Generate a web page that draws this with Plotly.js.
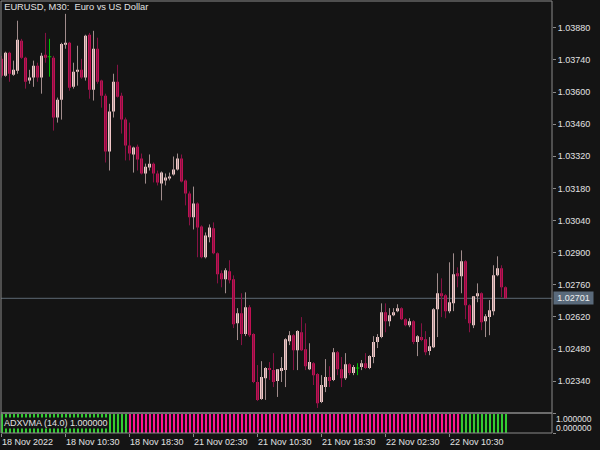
<!DOCTYPE html>
<html><head><meta charset="utf-8">
<script src="https://cdn.plot.ly/plotly-3.0.1.min.js"></script>
<style>html,body{margin:0;padding:0;background:#141414;}#chart{width:600px;height:450px;}</style>
</head><body><div id="chart"></div>
<script>
// EURUSD M30 bars (oldest -> newest)
const open = [
1.03745,1.03671,1.03771,1.03676,1.03693,1.03824,1.03750,1.03650,1.03663,1.03715,
1.03663,1.03763,1.03754,1.03750,1.03489,1.03567,1.03806,1.03815,1.03623,1.03689,
1.03697,1.03663,1.03850,1.03610,1.03789,1.03650,1.03584,1.03341,1.03515,1.03645,
1.03584,1.03480,1.03367,1.03328,1.03362,1.03310,1.03245,1.03271,1.03288,1.03245,
1.03201,1.03215,1.03223,1.03241,1.03262,1.03310,1.03215,1.03158,1.03054,1.03114,
1.03014,1.02880,1.02967,1.03006,1.02897,1.02810,1.02784,1.02819,1.02784,1.02592,
1.02636,1.02545,1.02662,1.02545,1.02336,1.02262,1.02353,1.02397,1.02388,1.02340,
1.02384,1.02388,1.02514,1.02540,1.02475,1.02553,1.02479,1.02392,1.02418,1.02371,
1.02249,1.02314,1.02358,1.02345,1.02466,1.02392,1.02353,1.02414,1.02375,1.02397,
1.02401,1.02418,1.02397,1.02445,1.02510,1.02532,1.02640,1.02601,1.02627,1.02645,
1.02658,1.02610,1.02584,1.02601,1.02510,1.02532,1.02523,1.02471,1.02488,1.02653,
1.02723,1.02714,1.02645,1.02679,1.02810,1.02797,1.02862,1.02671,1.02584,1.02710,
1.02723,1.02601,1.02619,1.02645,1.02801,1.02832,1.02749];
const high = [
1.03758,1.03776,1.03776,1.03737,1.03911,1.03832,1.03754,1.03697,1.03737,1.03728,
1.03771,1.03858,1.03832,1.03758,1.03576,1.03815,1.03941,1.03819,1.03728,1.03802,
1.03745,1.03850,1.03858,1.03867,1.03837,1.03654,1.03593,1.03549,1.03680,1.03719,
1.03597,1.03489,1.03467,1.03362,1.03371,1.03332,1.03288,1.03328,1.03293,1.03258,
1.03254,1.03245,1.03249,1.03319,1.03332,1.03328,1.03219,1.03167,1.03188,1.03119,
1.03019,1.02988,1.03023,1.03032,1.02901,1.02823,1.02832,1.02867,1.02801,1.02658,
1.02723,1.02727,1.02671,1.02549,1.02410,1.02427,1.02401,1.02423,1.02462,1.02392,
1.02445,1.02527,1.02558,1.02545,1.02562,1.02619,1.02592,1.02505,1.02423,1.02375,
1.02366,1.02436,1.02405,1.02484,1.02471,1.02445,1.02462,1.02418,1.02410,1.02418,
1.02432,1.02462,1.02453,1.02536,1.02545,1.02679,1.02679,1.02658,1.02658,1.02675,
1.02662,1.02614,1.02614,1.02606,1.02540,1.02592,1.02558,1.02532,1.02658,1.02810,
1.02788,1.02719,1.02858,1.02897,1.02836,1.02910,1.02867,1.02675,1.02710,1.02766,
1.02727,1.02632,1.02693,1.02845,1.02884,1.02845,1.02753];
const low = [
1.03663,1.03667,1.03645,1.03671,1.03680,1.03745,1.03615,1.03636,1.03623,1.03645,
1.03593,1.03728,1.03667,1.03432,1.03467,1.03480,1.03789,1.03606,1.03615,1.03628,
1.03658,1.03650,1.03571,1.03563,1.03636,1.03532,1.03293,1.03258,1.03489,1.03576,
1.03419,1.03302,1.03302,1.03249,1.03258,1.03241,1.03201,1.03258,1.03206,1.03193,
1.03128,1.03193,1.03215,1.03236,1.03258,1.03206,1.03106,1.03019,1.03001,1.02880,
1.02875,1.02875,1.02945,1.02893,1.02766,1.02749,1.02723,1.02766,1.02571,1.02519,
1.02497,1.02536,1.02532,1.02331,1.02253,1.02258,1.02258,1.02345,1.02314,1.02271,
1.02336,1.02314,1.02497,1.02388,1.02388,1.02471,1.02388,1.02388,1.02323,1.02223,
1.02244,1.02292,1.02314,1.02340,1.02366,1.02314,1.02345,1.02366,1.02366,1.02366,
1.02388,1.02392,1.02392,1.02418,1.02484,1.02527,1.02553,1.02579,1.02623,1.02640,
1.02606,1.02579,1.02575,1.02501,1.02449,1.02514,1.02453,1.02453,1.02484,1.02532,
1.02619,1.02614,1.02636,1.02645,1.02749,1.02723,1.02610,1.02553,1.02571,1.02684,
1.02562,1.02532,1.02540,1.02627,1.02797,1.02706,1.02701];
const close = [
1.03671,1.03771,1.03680,1.03697,1.03828,1.03750,1.03645,1.03663,1.03715,1.03663,
1.03758,1.03750,1.03754,1.03489,1.03567,1.03810,1.03815,1.03619,1.03689,1.03697,
1.03663,1.03845,1.03610,1.03789,1.03645,1.03584,1.03341,1.03515,1.03645,1.03580,
1.03480,1.03367,1.03332,1.03358,1.03306,1.03245,1.03275,1.03288,1.03245,1.03206,
1.03249,1.03228,1.03232,1.03262,1.03310,1.03210,1.03158,1.03054,1.03114,1.03010,
1.02880,1.02975,1.03010,1.02897,1.02806,1.02784,1.02823,1.02780,1.02588,1.02636,
1.02545,1.02662,1.02540,1.02336,1.02258,1.02358,1.02397,1.02388,1.02336,1.02392,
1.02397,1.02523,1.02540,1.02475,1.02558,1.02475,1.02405,1.02423,1.02366,1.02244,
1.02323,1.02358,1.02340,1.02466,1.02392,1.02353,1.02414,1.02375,1.02401,1.02397,
1.02418,1.02397,1.02449,1.02510,1.02532,1.02640,1.02601,1.02627,1.02640,1.02658,
1.02610,1.02584,1.02601,1.02510,1.02536,1.02519,1.02466,1.02492,1.02653,1.02723,
1.02710,1.02645,1.02684,1.02806,1.02797,1.02862,1.02671,1.02592,1.02710,1.02723,
1.02597,1.02623,1.02649,1.02801,1.02832,1.02749,1.02701];

// ADXVMA indicator: value and trend colour state (1 = up/green, -1 = down/pink)
const adxvmaValue = [
1,1,1,1,1,1,1,1,1,1, 1,1,1,1,1,1,1,1,1,1, 1,1,1,1,1,1,1,1,1,1,
1,1,1,1,1,1,1,1,1,1, 1,1,1,1,1,1,1,1,1,1, 1,1,1,1,1,1,1,1,1,1,
1,1,1,1,1,1,1,1,1,1, 1,1,1,1,1,1,1,1,1,1, 1,1,1,1,1,1,1,1,1,1,
1,1,1,1,1,1,1,1,1,1, 1,1,1,1,1,1,1,1,1,1, 1,1,1,1,1,1,1,1,1,1,
1,1,1,1,1,1,1];
const adxvmaTrend = [
 1, 1, 1, 1, 1, 1, 1, 1, 1, 1,  1, 1, 1, 1, 1, 1, 1, 1, 1, 1,  1, 1, 1, 1, 1, 1, 1, 1, 1, 1,
 1, 1,-1,-1,-1,-1,-1,-1,-1,-1, -1,-1,-1,-1,-1,-1,-1,-1,-1,-1, -1,-1,-1,-1,-1,-1,-1,-1,-1,-1,
-1,-1,-1,-1,-1,-1,-1,-1,-1,-1, -1,-1,-1,-1,-1,-1,-1,-1,-1,-1, -1,-1,-1,-1,-1,-1,-1,-1,-1,-1,
-1,-1,-1,-1,-1,-1,-1,-1,-1,-1, -1,-1,-1,-1,-1,-1,-1,-1,-1,-1, -1,-1,-1,-1,-1,
 1, 1, 1, 1, 1, 1, 1, 1, 1, 1, 1, 1];

// time axis labels (bar index where each label sits)
const tickBarIndex = [0, 16, 32, 48, 64, 80, 96, 112];
const tickLabels = ["18 Nov 2022","18 Nov 10:30","18 Nov 18:30","21 Nov 02:30","21 Nov 10:30","21 Nov 18:30","22 Nov 02:30","22 Nov 10:30"];

const symbolTitle = "EURUSD, M30:\u00a0 Euro vs US Dollar";
const indicatorLabel = "ADXVMA (14.0) 1.000000";
const indicatorScale = ["1.000000", "0.000000"];

// ---- build ----
const idx = open.map((_, i) => i);
const isDoji = open.map((o, i) => o === close[i]);
const pick = (arr, keepDoji) => arr.map((v, i) => (isDoji[i] === keepDoji ? v : null));

const BULL_BODY = '#ffd3d3', BEAR_BODY = '#cc1258';
const BULL_WICK = '#a08c8c', BEAR_WICK = '#861244';
const GRID = '#8a8a8a', TXT = '#e2e2e2';
const FONT = 'Liberation Sans, Arial, sans-serif';

const wicks = {
  type: 'ohlc', x: idx, xaxis: 'x', yaxis: 'y',
  open: pick(open, false), high: pick(high, false), low: pick(low, false), close: pick(close, false),
  tickwidth: 0,
  increasing: {line: {color: BULL_WICK, width: 1}},
  decreasing: {line: {color: BEAR_WICK, width: 1}},
  hoverinfo: 'skip'
};
const bodies = {
  type: 'candlestick', x: idx, xaxis: 'x', yaxis: 'y',
  open: pick(open, false), high: pick(high, false), low: pick(low, false), close: pick(close, false),
  whiskerwidth: 0,
  increasing: {fillcolor: BULL_BODY, line: {color: BULL_BODY, width: 0}},
  decreasing: {fillcolor: BEAR_BODY, line: {color: BEAR_BODY, width: 0}},
  hoverinfo: 'skip'
};
const dojis = {
  type: 'ohlc', x: idx, xaxis: 'x', yaxis: 'y',
  open: pick(open, true), high: pick(high, true), low: pick(low, true), close: pick(close, true),
  tickwidth: 0.45,
  increasing: {line: {color: '#00c000', width: 1}},
  decreasing: {line: {color: '#00c000', width: 1}},
  hoverinfo: 'skip'
};
const adx = {
  type: 'bar', x: idx, y: adxvmaValue, xaxis: 'x', yaxis: 'y2', width: 0.5,
  marker: {color: adxvmaTrend.map(t => t > 0 ? '#32cd32' : '#ff1493'), line: {width: 0}},
  hoverinfo: 'skip'
};

const lastClose = close[close.length - 1];
const mainBottom = 20 / 432;

const layout = {
  width: 600, height: 450,
  margin: {l: 1, r: 48, t: 1, b: 17, pad: 0},
  paper_bgcolor: '#141414', plot_bgcolor: '#141414',
  showlegend: false, hovermode: false, dragmode: false,
  font: {family: FONT, size: 9, color: TXT},
  title: {text: symbolTitle, x: 0.007, xanchor: 'left', y: 0.993, yanchor: 'top',
          font: {family: FONT, size: 9.3, color: TXT}},
  bargap: 0, boxgap: 0.28, boxgroupgap: 0,
  xaxis: {anchor: 'y2', range: [-0.125, 137.625], showgrid: false, zeroline: false, showline: false,
          tickmode: 'array', tickvals: tickBarIndex, ticktext: tickLabels,
          ticks: 'outside', ticklen: 3, tickcolor: GRID, ticklabelposition: 'outside right',
          tickfont: {family: FONT, size: 9, color: TXT},
          rangeslider: {visible: false}, fixedrange: true},
  yaxis: {domain: [mainBottom, 1], anchor: 'x', side: 'right', range: [1.02201, 1.03997],
          tick0: 1.0234, dtick: 0.0014, tickformat: '.5f',
          ticks: 'outside', ticklen: 3, tickcolor: GRID, showgrid: false, zeroline: false, showline: false,
          tickfont: {family: FONT, size: 9, color: TXT}, fixedrange: true},
  yaxis2: {domain: [0, 0.044], anchor: 'x', side: 'right', range: [0, 1],
           tickvals: [0, 1], showticklabels: false, ticks: 'outside', ticklen: 3, tickcolor: GRID,
           showgrid: false, zeroline: false, showline: false, fixedrange: true},
  shapes: [
    {type: 'rect', xref: 'paper', yref: 'paper', x0: 0, x1: 1, y0: mainBottom, y1: 1,
     line: {color: GRID, width: 1}, fillcolor: 'rgba(0,0,0,0)', layer: 'above'},
    {type: 'rect', xref: 'paper', yref: 'paper', x0: 0, x1: 1, y0: 0, y1: mainBottom,
     line: {color: GRID, width: 1}, fillcolor: 'rgba(0,0,0,0)', layer: 'above'},
    {type: 'line', xref: 'paper', yref: 'y', x0: 0, x1: 1, y0: lastClose, y1: lastClose,
     line: {color: '#5d6874', width: 1}, layer: 'below'}
  ],
  annotations: [
    {xref: 'paper', yref: 'y', x: 1, y: lastClose, xanchor: 'left', yanchor: 'middle', xshift: 1,
     text: lastClose.toFixed(5), showarrow: false, bgcolor: '#5a6a7b', borderpad: 1, width: 37,
     font: {family: FONT, size: 9, color: '#eeeeee'}},
    {xref: 'paper', yref: 'paper', x: 0, y: 10 / 432, xanchor: 'left', yanchor: 'middle', xshift: 2,
     text: indicatorLabel, showarrow: false, bgcolor: '#141414', borderpad: 0,
     font: {family: FONT, size: 9, color: TXT}},
    {xref: 'paper', yref: 'paper', x: 1, y: 14 / 432, xanchor: 'left', yanchor: 'middle', xshift: 2,
     text: indicatorScale[0], showarrow: false, font: {family: FONT, size: 8.5, color: TXT}},
    {xref: 'paper', yref: 'paper', x: 1, y: 5 / 432, xanchor: 'left', yanchor: 'middle', xshift: 2,
     text: indicatorScale[1], showarrow: false, font: {family: FONT, size: 8.5, color: TXT}}
  ]
};

Plotly.newPlot('chart', [adx, wicks, bodies, dojis], layout, {staticPlot: true, displayModeBar: false});
</script>
</body></html>
